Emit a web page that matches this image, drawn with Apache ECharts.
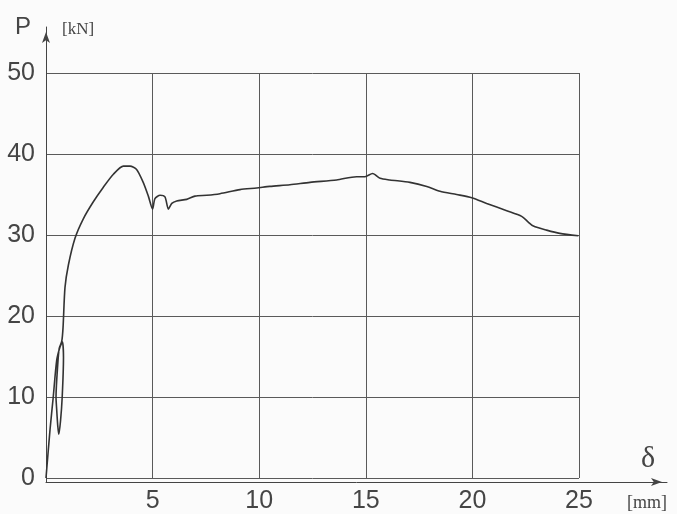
<!DOCTYPE html>
<html>
<head>
<meta charset="utf-8">
<script src="https://cdn.jsdelivr.net/npm/echarts@6/dist/echarts.min.js"></script>
<style>
html,body{margin:0;padding:0;background:#fbfbfb;}
#chart{width:677px;height:514px;}
</style>
</head>
<body>
<div id="chart"></div>
<script>
// Deflection δ [mm]
const deltaMm = [0, 0.19, 0.34, 0.50, 0.66, 0.77, 0.82, 0.76, 0.68, 0.60, 0.55, 0.50, 0.47, 0.55, 0.62, 0.74,
  0.80, 0.89, 1.05, 1.36, 1.75, 2.22, 2.69, 3.16, 3.63, 3.94, 4.25, 4.56, 4.80, 5.00, 5.11, 5.35, 5.58, 5.74,
  5.90, 6.13, 6.60, 6.99, 7.54, 8.16, 9.10, 9.88, 10.5, 11.44, 12.38, 13.63, 14.57, 14.96, 15.32, 15.67,
  16.13, 17.07, 17.86, 18.48, 19.26, 19.97, 20.67, 21.61, 22.31, 22.62, 22.86, 23.48, 24.10, 24.97];
// Load P [kN]
const loadKN = [0, 6.0, 10.0, 14.5, 16.2, 16.8, 14.9, 10.0, 7.0, 5.4, 6.5, 8.5, 10.0, 14.0, 16.0, 16.9,
  18.6, 23.5, 26.3, 29.6, 32.0, 34.1, 35.9, 37.5, 38.5, 38.5, 38.1, 36.5, 34.8, 33.2, 34.5, 34.9, 34.7, 33.2,
  33.9, 34.2, 34.4, 34.8, 34.9, 35.1, 35.6, 35.8, 36.0, 36.2, 36.5, 36.8, 37.2, 37.2, 37.6, 37.0,
  36.8, 36.5, 36.0, 35.4, 35.0, 34.6, 33.9, 33.0, 32.3, 31.6, 31.1, 30.6, 30.2, 29.9];
const xTicks = {min: 0, max: 25, step: 5};
const yTicks = {min: 0, max: 50, step: 10};

const points = deltaMm.map((d, i) => [d, loadKN[i]]);
const chart = echarts.init(document.getElementById('chart'), null, {renderer: 'canvas'});
const numFont = "'Liberation Sans',sans-serif";
const serif = "'Liberation Serif','DejaVu Serif',serif";
const ink = '#454545';
chart.setOption({
  backgroundColor: '#fbfbfb',
  animation: false,
  grid: [
    {left: 46, right: 98, top: 73, bottom: 32},
    {left: 46, right: 10, top: 27, bottom: 32}
  ],
  xAxis: [
    {
      type: 'value', gridIndex: 0, min: xTicks.min, max: xTicks.max, interval: xTicks.step,
      axisLine: {show: false}, axisTick: {show: false},
      axisLabel: {
        color: ink, fontSize: 25, fontFamily: numFont, margin: 10, lineHeight: 26,
        formatter: v => v === 0 ? '' : String(v)
      },
      splitLine: {show: true, lineStyle: {color: '#5a5a5a', width: 1}}
    },
    {
      type: 'value', gridIndex: 1, min: 0, max: 1,
      axisLine: {show: true, symbol: ['none', 'arrow'], symbolSize: [6, 11], symbolOffset: [0, -5], lineStyle: {color: '#444', width: 1}},
      axisTick: {show: false}, axisLabel: {show: false}, splitLine: {show: false}
    }
  ],
  yAxis: [
    {
      type: 'value', gridIndex: 0, min: yTicks.min, max: yTicks.max, interval: yTicks.step,
      axisLine: {show: false}, axisTick: {show: false},
      axisLabel: {color: ink, fontSize: 25, fontFamily: numFont, margin: 11},
      splitLine: {show: true, lineStyle: {color: '#5a5a5a', width: 1}}
    },
    {
      type: 'value', gridIndex: 1, min: 0, max: 1,
      axisLine: {show: true, symbol: ['none', 'arrow'], symbolSize: [6, 11], symbolOffset: [0, -5], lineStyle: {color: '#444', width: 1}},
      axisTick: {show: false}, axisLabel: {show: false}, splitLine: {show: false}
    }
  ],
  graphic: [
    {type: 'text', left: 15, top: 15, style: {text: 'P', font: "24px 'Liberation Sans',sans-serif", fill: ink}},
    {type: 'text', left: 62, top: 21, style: {text: '[kN]', font: "17px " + serif, fill: ink}},
    {type: 'text', left: 641, top: 444, style: {text: 'δ', font: "30px " + serif, fill: ink}},
    {type: 'text', left: 627, top: 494, style: {text: '[mm]', font: "18px " + serif, fill: ink}}
  ],
  series: [{
    type: 'line', xAxisIndex: 0, yAxisIndex: 0, data: points,
    showSymbol: false, smooth: 0.25, clip: false,
    lineStyle: {color: '#333', width: 1.6}
  }]
});
</script>
</body>
</html>
